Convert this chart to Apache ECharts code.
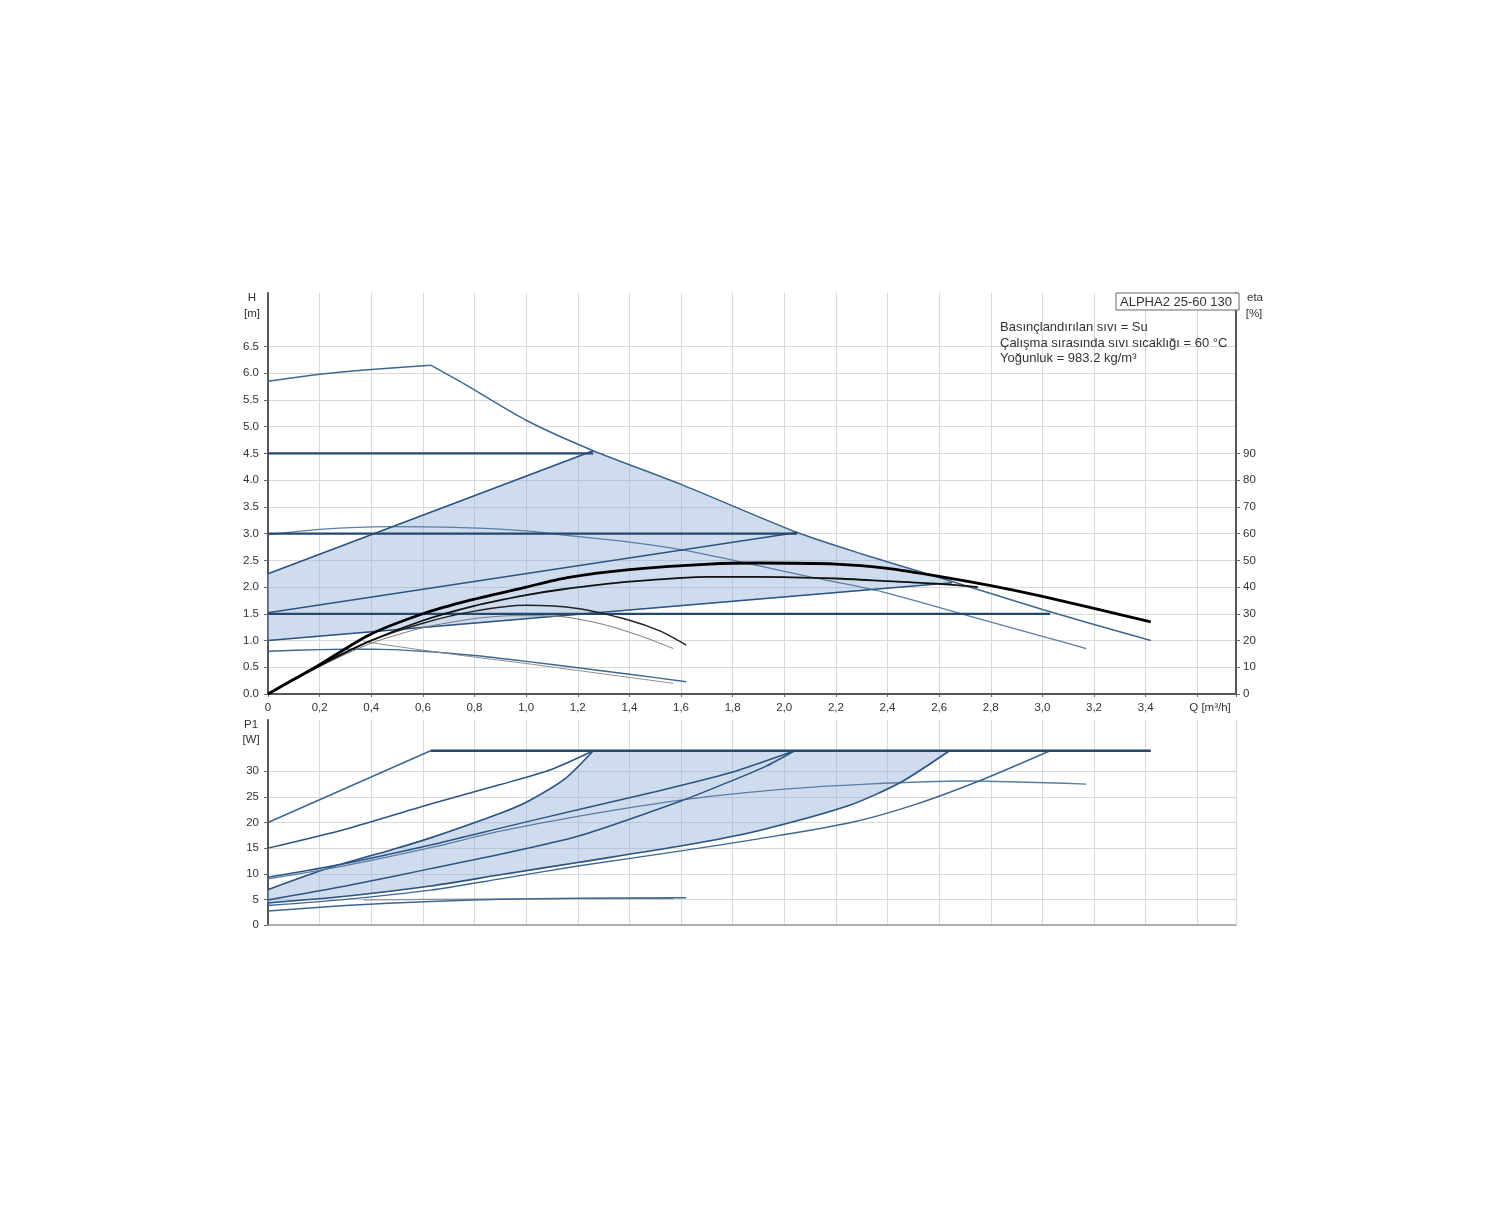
<!DOCTYPE html>
<html>
<head>
<meta charset="utf-8">
<script src="https://cdn.jsdelivr.net/npm/echarts@6/dist/echarts.min.js"></script>
<style>
html,body{margin:0;padding:0;background:#fff;}
#c{width:1500px;height:1222px;}
</style>
</head>
<body>
<div id="c"></div>
<script>
// ---------- data (Q in m3/h) ----------
// Head curves H [m]
const hSpeed3 = [[0,5.85],[0.2,5.98],[0.4,6.07],[0.63,6.15],[0.76,5.8],[1.0,5.12],[1.26,4.55],[1.6,3.92],[2.05,3.02],[2.3,2.62],[2.6,2.18],[3.0,1.58],[3.42,1.0]];
const hSpeed2 = [[0,2.98],[0.2,3.08],[0.47,3.13],[0.75,3.11],[1.0,3.05],[1.13,2.98],[1.4,2.84],[1.61,2.69],[1.9,2.4],[2.1,2.19],[2.38,1.91],[2.7,1.48],[3.0,1.08],[3.17,0.85]];
const hSpeed1 = [[0,0.8],[0.2,0.83],[0.4,0.84],[0.6,0.8],[0.8,0.72],[1.0,0.61],[1.2,0.49],[1.4,0.37],[1.62,0.23]];
const hSpeed1b = [[0.37,0.98],[0.6,0.82],[0.8,0.69],[1.0,0.57],[1.2,0.44],[1.4,0.31],[1.57,0.2]];
const hPP1 = [[0,1.0],[2.65,2.08]];
const hPP2 = [[0,1.52],[2.05,3.02]];
const hPP3 = [[0,2.25],[1.26,4.55]];
const hCP1 = [[0,1.5],[3.03,1.5]];
const hCP2 = [[0,3.0],[2.05,3.0]];
const hCP3 = [[0,4.5],[1.26,4.5]];
// Efficiency curves eta [%]
const eta1 = [[0,0],[0.1,5.5],[0.2,11],[0.39,22],[0.6,30],[0.78,35],[1.0,40],[1.16,43.5],[1.4,46.5],[1.71,48.6],[1.9,49],[2.2,48.6],[2.4,47],[2.6,44],[2.8,40.5],[3.0,36.5],[3.2,32],[3.42,27]];
const eta2 = [[0,0],[0.2,10.5],[0.4,20],[0.6,27.5],[0.8,33],[1.0,37],[1.13,39],[1.4,42],[1.71,43.8],[1.9,43.8],[2.2,43.2],[2.4,42.2],[2.6,41.2],[2.75,40]];
const eta3 = [[0,0],[0.2,10.8],[0.4,20],[0.6,26.5],[0.8,31],[1.0,33.2],[1.2,32],[1.4,27.6],[1.52,23.5],[1.62,18.3]];
const eta4 = [[0,0],[0.2,10.3],[0.4,19],[0.6,24.8],[0.8,28.2],[0.95,29.3],[1.14,28.9],[1.3,26],[1.45,21.5],[1.57,17]];
// Power curves P1 [W]
const pSpeed3 = [[0,20],[0.63,34]];
const pMax = [[0.63,34],[3.42,34]];
const pCP3 = [[0,15],[0.3,18.7],[0.63,23.6],[0.9,27.4],[1.1,30.4],[1.26,34]];
const pPP3 = [[0,6.9],[0.24,11.2],[0.48,14.7],[0.63,17],[0.9,21.8],[1.01,24.2],[1.15,28.5],[1.26,34]];
const pCP2 = [[0,9.3],[0.3,12],[0.63,15.6],[0.9,18.9],[1.2,22.5],[1.5,26],[1.79,29.7],[2.04,34]];
const pSpeed2 = [[0,9.0],[0.3,11.6],[0.63,15.1],[0.9,18.3],[1.2,21.2],[1.62,24.5],[2.0,26.5],[2.32,27.5],[2.7,28.1],[3.17,27.5]];
const pPP2 = [[0,4.9],[0.3,7.6],[0.63,11.0],[0.9,13.8],[1.2,17.3],[1.6,24.2],[1.79,28],[1.93,31],[2.04,34]];
const pPP1 = [[0,4.3],[0.3,5.6],[0.63,7.6],[0.9,9.8],[1.2,12.2],[1.62,15.6],[1.9,18.4],[2.25,23.3],[2.45,27.8],[2.64,34]];
const pCP1 = [[0,3.8],[0.3,5.0],[0.63,6.8],[0.9,9.0],[1.2,11.5],[1.62,14.6],[1.9,16.8],[2.25,19.9],[2.5,23.4],[2.75,28],[3.03,34]];
const pSpeed1 = [[0,2.75],[0.3,3.8],[0.63,4.6],[0.9,5.0],[1.2,5.2],[1.62,5.3]];
const pSpeed1b = [[0.37,4.9],[0.63,5.0],[0.9,5.1],[1.2,5.15],[1.57,5.15]];
// tick values and texts
const hTicks = [0,0.5,1,1.5,2,2.5,3,3.5,4,4.5,5,5.5,6,6.5];
const etaTicks = [0,10,20,30,40,50,60,70,80,90];
const pTicks = [0,5,10,15,20,25,30];
const pumpName = 'ALPHA2 25-60 130';
const infoLines = ['Basınçlandırılan sıvı = Su','Çalışma sırasında sıvı sıcaklığı = 60 °C','Yoğunluk = 983.2 kg/m³'];

// ---------- regions built from curves ----------
const ppEndQ = hPP1[hPP1.length-1][0];
const topRegion = [[0,hPP1[0][1]]].concat(hPP3)
  .concat(hSpeed3.filter(p => p[0] > hPP3[1][0] && p[0] < ppEndQ))
  .concat([hPP1[hPP1.length-1]]);
const pEndQ = pPP1[pPP1.length-1][0];
const botRegion = [[0,pPP1[0][1]]].concat(pPP3)
  .concat([[pEndQ, pMax[0][1]]])
  .concat(pPP1.slice().reverse());
const cornerIdx = 3; // index of the power-limit corner on speed III curve

const FONT = '"Liberation Sans", Arial, sans-serif';
const chart = echarts.init(document.getElementById('c'), null, {renderer:'canvas'});

function ln(data, color, width, opts) {
  return Object.assign({
    type:'line', data:data, showSymbol:false, symbol:'none', silent:true,
    xAxisIndex:0, yAxisIndex:0, z:3,
    lineStyle:{color:color, width:width}, smooth:false
  }, opts || {});
}
function region(data, xi, yi) {
  return {
    type:'custom', xAxisIndex:xi, yAxisIndex:yi, data:[[0,0]], silent:true, z:1, clip:false,
    renderItem: function(params, api) {
      return {type:'polygon', shape:{points: data.map(p => api.coord(p))},
              style:{fill:'rgba(140,172,212,0.42)', stroke:'rgba(120,160,205,0.5)', lineWidth:1}};
    }
  };
}
const BLUE = '#2b5482', BLUE2 = '#3d6791', BLUE3 = '#5a7ea3', NAVY = '#24476e';
const B = {xAxisIndex:1, yAxisIndex:2};
const E = {yAxisIndex:1, z:4};
const S = {smooth:0.25};
const mix = (...o) => Object.assign({}, ...o);

const gridLine = {show:true, lineStyle:{color:'#d9d9d9', width:1}};
const lbl = {color:'#333', fontSize:11.5, fontFamily:FONT};
const option = {
  animation:false,
  backgroundColor:'#ffffff',
  textStyle:{fontFamily:FONT},
  grid:[
    {left:268, top:293, width:968, height:401},
    {left:268, top:720, width:968, height:205}
  ],
  xAxis:[
    {gridIndex:0, type:'value', min:0, max:3.75, interval:0.2,
     axisLine:{show:true, onZero:false, lineStyle:{color:'#555', width:2}},
     axisTick:{show:true, length:3, lineStyle:{color:'#666'}},
     axisLabel:mix(lbl, {margin:8,
       formatter: v => v === 0 ? '0' : (v > 3.5 ? '' : v.toFixed(1).replace('.', ','))}),
     splitLine:gridLine},
    {gridIndex:1, type:'value', min:0, max:3.75, interval:0.2,
     axisLine:{show:true, onZero:false, lineStyle:{color:'#999', width:1.5}},
     axisTick:{show:false}, axisLabel:{show:false}, splitLine:gridLine}
  ],
  yAxis:[
    {gridIndex:0, type:'value', min:0, max:7.5, interval:0.5,
     axisLine:{show:true, onZero:false, lineStyle:{color:'#555', width:2}},
     axisTick:{show:true, length:4, customValues:hTicks, lineStyle:{color:'#666'}},
     axisLabel:mix(lbl, {margin:9, customValues:hTicks, formatter: v => v > 6.9 ? '' : v.toFixed(1)}),
     splitLine:gridLine},
    {gridIndex:0, type:'value', position:'right', min:0, max:150, interval:10,
     axisLine:{show:true, onZero:false, lineStyle:{color:'#555', width:2}},
     axisTick:{show:true, length:4, customValues:etaTicks, lineStyle:{color:'#666'}},
     axisLabel:mix(lbl, {margin:7, customValues:etaTicks, formatter: v => v >= 100 ? '' : String(v)}),
     splitLine:{show:false}},
    {gridIndex:1, type:'value', min:0, max:40, interval:5,
     axisLine:{show:true, onZero:false, lineStyle:{color:'#555', width:2}},
     axisTick:{show:true, length:4, customValues:pTicks, lineStyle:{color:'#666'}},
     axisLabel:mix(lbl, {margin:9, customValues:pTicks, formatter: v => v >= 35 ? '' : String(v)}),
     splitLine:gridLine}
  ],
  graphic:[
    {type:'text', x:252, y:298, style:mix(lbl, {text:'H', fill:'#333', align:'center', verticalAlign:'middle'})},
    {type:'text', x:252, y:314, style:mix(lbl, {text:'[m]', fill:'#333', align:'center', verticalAlign:'middle'})},
    {type:'text', x:1255, y:298, style:mix(lbl, {text:'eta', fill:'#333', align:'center', verticalAlign:'middle'})},
    {type:'text', x:1254, y:314, style:mix(lbl, {text:'[%]', fill:'#333', align:'center', verticalAlign:'middle'})},
    {type:'text', x:251, y:725, style:mix(lbl, {text:'P1', fill:'#333', align:'center', verticalAlign:'middle'})},
    {type:'text', x:251, y:740, style:mix(lbl, {text:'[W]', fill:'#333', align:'center', verticalAlign:'middle'})},
    {type:'text', x:1210, y:708, style:mix(lbl, {text:'Q [m³/h]', fill:'#333', align:'center', verticalAlign:'middle'})},
    {type:'rect', x:1116, y:293, z:10, shape:{width:123, height:17}, style:{fill:'#fff', stroke:'#666', lineWidth:1}},
    {type:'text', x:1120, y:302, z:11, style:{text:pumpName, fontSize:13, fontFamily:FONT, fill:'#333', align:'left', verticalAlign:'middle'}},
    {type:'text', x:1000, y:327, z:11, style:{text:infoLines[0], fontSize:13, fontFamily:FONT, fill:'#333', align:'left', verticalAlign:'middle'}},
    {type:'text', x:1000, y:343, z:11, style:{text:infoLines[1], fontSize:13, fontFamily:FONT, fill:'#333', align:'left', verticalAlign:'middle'}},
    {type:'text', x:1000, y:358, z:11, style:{text:infoLines[2], fontSize:13, fontFamily:FONT, fill:'#333', align:'left', verticalAlign:'middle'}}
  ],
  series:[
    region(topRegion, 0, 0),
    region(botRegion, 1, 2),
    // head
    ln(hSpeed3.slice(0, cornerIdx + 1), BLUE2, 1.5, S),
    ln(hSpeed3.slice(cornerIdx), BLUE2, 1.5, S),
    ln(hSpeed2, BLUE3, 1.3, S),
    ln(hSpeed1, BLUE2, 1.4, S),
    ln(hSpeed1b, '#8a8f96', 1.0, S),
    ln(hPP1, BLUE, 1.6),
    ln(hPP2, BLUE, 1.6),
    ln(hPP3, BLUE, 1.6),
    ln(hCP1, NAVY, 2.2),
    ln(hCP2, NAVY, 2.2),
    ln(hCP3, NAVY, 2.2),
    // efficiency
    ln(eta4, '#777', 1.0, mix(S, E)),
    ln(eta3, '#222', 1.5, mix(S, E)),
    ln(eta2, '#111', 1.8, mix(S, E)),
    ln(eta1, '#000', 2.8, mix(S, E)),
    // power
    ln(pSpeed3, BLUE2, 1.5, B),
    ln(pCP3, BLUE, 1.5, mix(S, B)),
    ln(pPP3, BLUE, 1.6, mix(S, B)),
    ln(pCP2, BLUE, 1.5, mix(S, B)),
    ln(pSpeed2, BLUE3, 1.3, mix(S, B)),
    ln(pPP2, BLUE, 1.5, mix(S, B)),
    ln(pPP1, BLUE, 1.6, mix(S, B)),
    ln(pCP1, BLUE2, 1.4, mix(S, B)),
    ln(pSpeed1b, '#8a8f96', 1.2, mix(S, B)),
    ln(pSpeed1, BLUE2, 1.5, mix(S, B)),
    ln(pMax, NAVY, 2.6, B)
  ]
};
chart.setOption(option);
</script>
</body>
</html>
